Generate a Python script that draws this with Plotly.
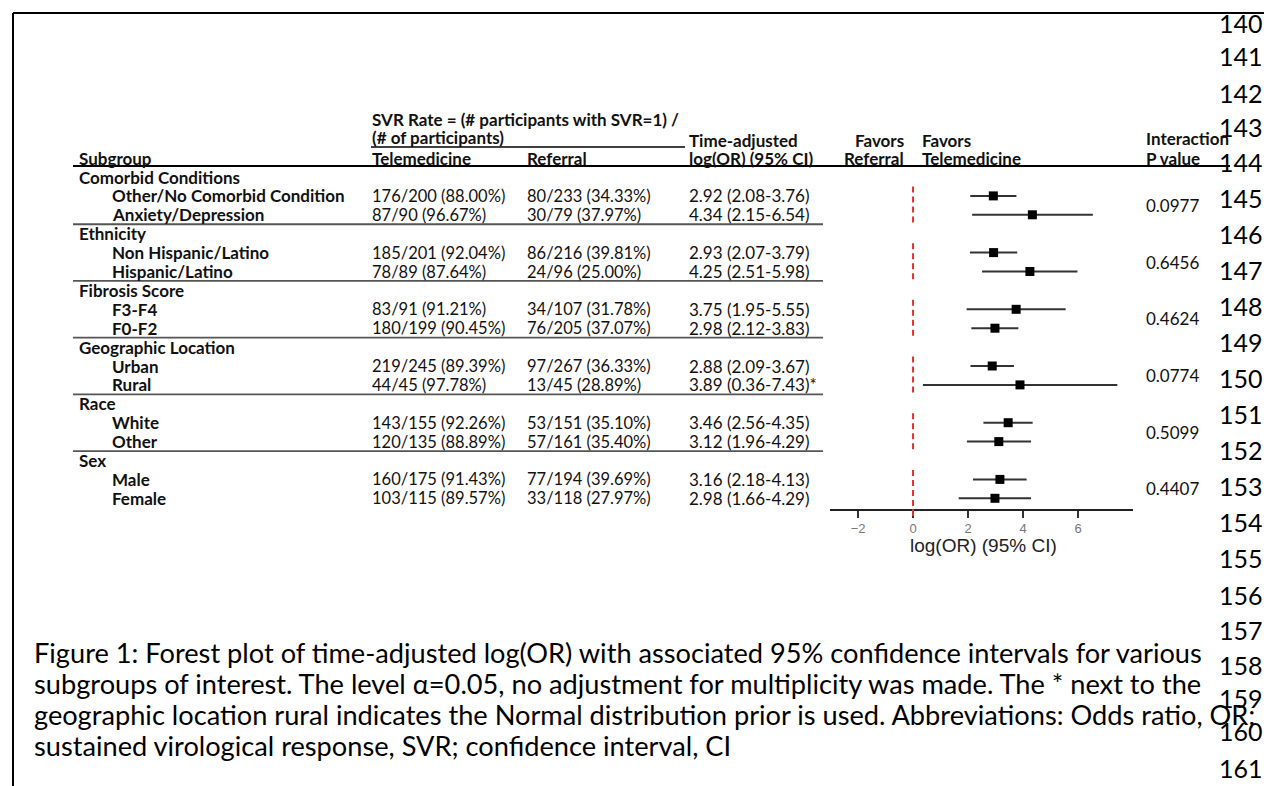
import plotly.graph_objects as go

# ---------------- data ----------------
groups = ["Comorbid Conditions", "Ethnicity", "Fibrosis Score",
          "Geographic Location", "Race", "Sex"]
subgroups = ["Other/No Comorbid Condition", "Anxiety/Depression",
             "Non Hispanic/Latino", "Hispanic/Latino",
             "F3-F4", "F0-F2",
             "Urban", "Rural",
             "White", "Other",
             "Male", "Female"]
group_of = [0, 0, 1, 1, 2, 2, 3, 3, 4, 4, 5, 5]
tele = ["176/200 (88.00%)", "87/90 (96.67%)", "185/201 (92.04%)", "78/89 (87.64%)",
        "83/91 (91.21%)", "180/199 (90.45%)", "219/245 (89.39%)", "44/45 (97.78%)",
        "143/155 (92.26%)", "120/135 (88.89%)", "160/175 (91.43%)", "103/115 (89.57%)"]
referral = ["80/233 (34.33%)", "30/79 (37.97%)", "86/216 (39.81%)", "24/96 (25.00%)",
            "34/107 (31.78%)", "76/205 (37.07%)", "97/267 (36.33%)", "13/45 (28.89%)",
            "53/151 (35.10%)", "57/161 (35.40%)", "77/194 (39.69%)", "33/118 (27.97%)"]
est = [2.92, 4.34, 2.93, 4.25, 3.75, 2.98, 2.88, 3.89, 3.46, 3.12, 3.16, 2.98]
lo = [2.08, 2.15, 2.07, 2.51, 1.95, 2.12, 2.09, 0.36, 2.56, 1.96, 2.18, 1.66]
hi = [3.76, 6.54, 3.79, 5.98, 5.55, 3.83, 3.67, 7.43, 4.35, 4.29, 4.13, 4.29]
note = ["", "", "", "", "", "", "", "*", "", "", "", ""]
pvals = ["0.0977", "0.6456", "0.4624", "0.0774", "0.5099", "0.4407"]
x_ticks = [-2, 0, 2, 4, 6]
line_numbers = list(range(140, 162))
caption = [
    "Figure 1: Forest plot of time-adjusted log(OR) with associated 95% confidence intervals for various",
    "subgroups of interest. The level \u03b1=0.05, no adjustment for multiplicity was made. The * next to the",
    "geographic location rural indicates the Normal distribution prior is used. Abbreviations: Odds ratio, OR;",
    "sustained virological response, SVR; confidence interval, CI",
]

W, H = 1272, 786
FONT = "Lato"
TXT = "#111111"
FS = 17  # table font size


def px(x):
    return x / W


def py(y):
    return 1 - y / H


# row index of each subgroup (group header, then its items)
rows = []
header_rows = []
r = 0
for g in range(len(groups)):
    header_rows.append(r)
    r += 1
    for i, gi in enumerate(group_of):
        if gi == g:
            rows.append(r)
            r += 1

ROW0, PITCH = 169.0, 18.9          # pixel centre of row 0, row pitch
AX_Y, TOP_Y = 501.0, 160.0         # axis line pixel, top of plot domain
y_lo = (TOP_Y - ROW0) / PITCH
y_hi = (AX_Y - ROW0) / PITCH

fig = go.Figure()

# forest plot: CI lines + squares
fig.add_trace(go.Scatter(
    x=est, y=rows, mode="markers",
    marker=dict(symbol="square", size=9, color="#000000"),
    error_x=dict(type="data", symmetric=False,
                 array=[h - e for h, e in zip(hi, est)],
                 arrayminus=[e - l for e, l in zip(est, lo)],
                 color="#333333", thickness=2, width=0),
    showlegend=False, hoverinfo="skip", cliponaxis=False,
))

shapes = []
# red dashed reference line at 0, one segment per group
for g, h in enumerate(header_rows):
    y0 = h + 0.5
    y1 = (h + 2.5) if g < len(groups) - 1 else y_hi
    shapes.append(dict(type="line", xref="x", yref="y", x0=0, x1=0, y0=y0, y1=y1,
                       line=dict(color="#e8302a", width=2, dash="6px,4px")))
# red tick at zero below the axis
shapes.append(dict(type="line", xref="x", yref="paper", x0=0, x1=0,
                   y0=py(AX_Y), y1=py(AX_Y + 7), line=dict(color="#e8302a", width=2)))
# grey separators between groups
for g, h in enumerate(header_rows[1:]):
    shapes.append(dict(type="line", xref="paper", yref="y", x0=px(65), x1=px(815),
                       y0=h - 0.5, y1=h - 0.5, line=dict(color="#555555", width=1.8)))
# header thick line and SVR underline
shapes.append(dict(type="line", xref="paper", yref="paper", x0=px(65), x1=px(1222),
                   y0=py(158), y1=py(158), line=dict(color="#000000", width=2)))
shapes.append(dict(type="line", xref="paper", yref="paper", x0=px(363), x1=px(677),
                   y0=py(139), y1=py(139), line=dict(color="#000000", width=1.5)))
# page frame (top, left, bottom)
for (x0, y0, x1, y1) in [(5, 5, 1270, 5), (5, 5, 5, 784), (5, 784, 1270, 784)]:
    shapes.append(dict(type="line", xref="paper", yref="paper", x0=px(x0), x1=px(x1),
                       y0=py(y0), y1=py(y1), line=dict(color="#000000", width=2)))

ann = []


def text(x, y, s, size=FS, bold=False, anchor="left", yref="paper", color=TXT, family=FONT):
    ann.append(dict(x=px(x), y=(py(y) if yref == "paper" else y), xref="paper", yref=yref,
                    text=(f"<b>{s}</b>" if bold else s), showarrow=False,
                    xanchor=anchor, yanchor="middle", borderpad=0,
                    font=dict(family=family, size=size, color=color)))


# column headers
text(363, 112, "SVR Rate = (# participants with SVR=1) /", bold=True)
text(363, 129, "(# of participants)", bold=True)
text(70, 150, "Subgroup", bold=True)
text(363, 150, "Telemedicine", bold=True)
text(518, 150, "Referral", bold=True)
text(680, 132, "Time-adjusted", bold=True)
text(680, 150, "log(OR) (95% CI)", bold=True)
text(897, 132, "Favors", bold=True, anchor="right")
text(897, 150, "Referral", bold=True, anchor="right")
text(913, 132, "Favors", bold=True)
text(913, 150, "Telemedicine", bold=True)
text(1137, 131, "Interaction", bold=True)
text(1137, 150, "P value", bold=True)

# table body
for g, h in enumerate(header_rows):
    text(70, h, groups[g], bold=True, yref="y")
for i, rr in enumerate(rows):
    text(103, rr, subgroups[i], bold=True, yref="y")
    text(363, rr, tele[i], size=16.5, yref="y")
    text(518, rr, referral[i], size=16.5, yref="y")
    text(680, rr, f"{est[i]:.2f} ({lo[i]:.2f}-{hi[i]:.2f}){note[i]}", yref="y")
for g, h in enumerate(header_rows):
    text(1137, h + 1.5, pvals[g], yref="y")

# axis title
text(975, 537, "log(OR) (95% CI)", size=19, anchor="center", family="Liberation Sans", color="#222222")

# line numbers (page margin)
ln_y = [15, 48, 85, 119, 154, 190, 226, 262, 298, 334, 370,
        406, 442, 478, 514, 550, 587, 622, 657, 690, 723, 760]
for n, yy in zip(line_numbers, ln_y):
    text(1256, yy, str(n), size=25, anchor="right", color="#000000")

# caption
for k, line in enumerate(caption):
    text(25, 644 + 31 * k, line, size=27.2, color="#000000")

fig.update_layout(
    width=W, height=H, margin=dict(l=0, r=0, t=0, b=0),
    paper_bgcolor="white", plot_bgcolor="white",
    shapes=shapes, annotations=ann,
    xaxis=dict(domain=[px(822), px(1125)], range=[-3.02, 8.0],
               tickvals=x_ticks, showgrid=False, zeroline=False,
               showline=True, linecolor="#222222", linewidth=1.5,
               ticks="outside", ticklen=7, tickwidth=2, tickcolor="#333333",
               tickfont=dict(family="Liberation Sans", size=13, color="#777777")),
    yaxis=dict(domain=[py(AX_Y), py(TOP_Y)], range=[y_hi, y_lo],
               visible=False, showgrid=False, zeroline=False),
)

fig.write_html("out.html")
